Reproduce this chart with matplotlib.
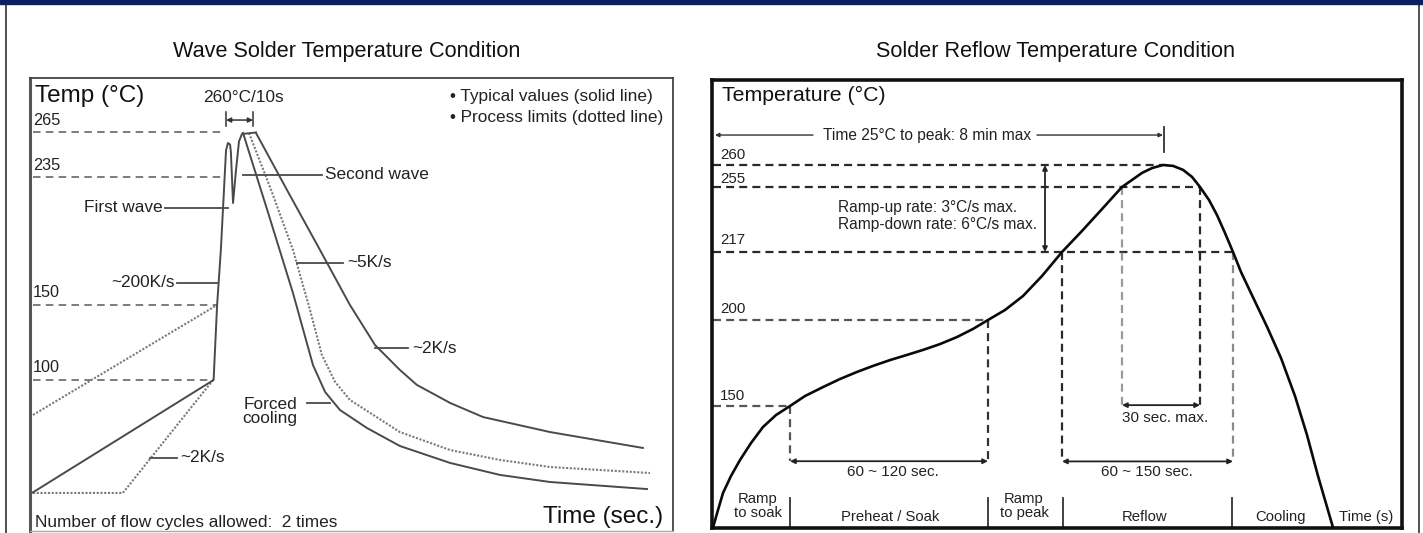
import numpy as np
import matplotlib
matplotlib.use("Agg")
import matplotlib.pyplot as plt
from matplotlib.patches import Rectangle
from matplotlib.lines import Line2D

plt.rcParams['font.family'] = ['Liberation Sans', 'DejaVu Sans']

# ---------------- data: wave solder (left) ----------------
wave_heat_t = [1, 68, 69.3, 70.7, 72.6, 73.3, 74.1, 74.4, 75.2, 76.3, 77.4, 78.5, 83.7]
wave_heat_T = [25, 100, 150, 187, 253, 258, 257, 252, 218, 240, 259, 264, 265]
forced_t = [78.9, 88.1, 97.4, 104.8, 109.3, 114.8, 124.8, 137.0, 155.6, 174.1, 192.6, 228.5]
forced_T = [264.7, 212, 158, 110, 92, 80, 68, 56, 44.7, 36.7, 32, 27.3]
limit_cool_t = [81.1, 89.3, 97.4, 103.7, 108.1, 113.0, 118.5, 137.0, 155.6, 174.1, 192.6, 229.6]
limit_cool_T = [264.7, 226.7, 186.7, 146.7, 116.7, 98.7, 86.7, 65.3, 53.3, 46.7, 42, 38]
slow_cool_t = [83.7, 95.6, 107.4, 118.5, 127.8, 137.0, 143.3, 155.6, 167.8, 192.6, 227.0]
slow_cool_T = [264.7, 225.3, 186.7, 150, 123.3, 106.7, 96.7, 84.7, 75.3, 65.3, 54.7]
limit_pre_low_t = [1.1, 34.4, 67.8]
limit_pre_low_T = [24.7, 24.7, 100]
limit_pre_high_t = [1.1, 69.3]
limit_pre_high_T = [76.7, 150]
wave_levels = [265, 235, 150, 100]
wave_level_end_t = [72.2, 71.1, 69.3, 67.8]

# ---------------- data: reflow (right) ----------------
reflow_t = [0, 5, 10, 18, 27, 38, 50, 63, 77, 92, 110, 127, 144, 160, 177, 194, 210, 227,
            244, 260, 275, 292, 310, 329, 349, 369, 389, 409, 419, 429, 439, 450, 460, 470,
            479, 487, 496, 504, 512, 520, 528, 537, 554, 568, 582, 594, 605, 620]
reflow_T = [25, 43.0, 60.5, 78.0, 94.4, 111.9, 128.4, 140.7, 150, 155.8, 161.0, 165.7,
            169.8, 173.3, 176.7, 179.7, 182.6, 186.0, 190.1, 194.8, 200, 202.5, 206, 211,
            217, 229.3, 242.1, 255, 256.6, 258.2, 259.3, 260, 259.8, 258.9, 257.3, 255,
            247.4, 238.6, 228.1, 217, 212, 207.25, 196.1, 177.9, 155.8, 120.2, 78.0, 25]
reflow_levels = [260, 255, 217, 200, 150]
reflow_level_end_t = [450, 487, 520, 275, 77]
phase_bounds_t = [77, 275, 350, 519]
phase_names = ["Ramp\nto soak", "Preheat / Soak", "Ramp\nto peak", "Reflow", "Cooling", "Time (s)"]
phase_center_t = [45, 177, 311, 432, 567, 653]

# temperature -> vertical position of the schematic (non-linear) axis
T_ANCH = np.array([0, 25, 150, 200, 217, 255, 260, 300])
P_ANCH = np.array([-24.3, 0, 121.5, 207.5, 275.5, 340.5, 362.5, 447.5])


def fwd(v):
    return np.interp(v, T_ANCH, P_ANCH)


def inv(p):
    return np.interp(p, P_ANCH, T_ANCH)


W, H = 1423, 533
fig = plt.figure(figsize=(W / 100, H / 100), dpi=100)
fig.patch.set_facecolor('white')

# frame / top band
fig.patches.append(Rectangle((0, 1 - 4 / H), 1, 4 / H, transform=fig.transFigure,
                             color='#0c1f5e', zorder=5))
for xp in (6, 1419):
    fig.lines.append(Line2D([xp / W, xp / W], [0, 1 - 4 / H], transform=fig.transFigure,
                            color='#333333', lw=1.2))

fig.text(347 / W, 1 - 51 / H, "Wave Solder Temperature Condition", ha='center', va='center',
         fontsize=15.6, color='#111111')
fig.text(1056 / W, 1 - 51 / H, "Solder Reflow Temperature Condition", ha='center', va='center',
         fontsize=15.6, color='#111111')

# ================= LEFT PANEL =================
axL = fig.add_axes([30 / W, 2 / H, 643 / W, 453 / H])
axL.set_xlim(0, 238.15)
axL.set_ylim(-0.667, 301.33)
axL.set_xticks([])
axL.set_yticks([])
axL.spines['left'].set_linewidth(2.2)
axL.spines['left'].set_color('#555555')
for s in ('top', 'right'):
    axL.spines[s].set_linewidth(1.3)
    axL.spines[s].set_color('#444444')
axL.spines['bottom'].set_linewidth(1.0)
axL.spines['bottom'].set_color('#aaaaaa')

cl = '#4a4a4a'
dotted = dict(color='#7a7a7a', lw=1.5, ls=(0, (1, 0.8)))
for lev, te in zip(wave_levels, wave_level_end_t):
    axL.plot([1.1, te], [lev, lev], color='#666666', lw=1.2, ls=(0, (4.5, 3.2)))
    axL.text(1.1, lev + 8, str(lev), ha='left', va='center', fontsize=11.7, color='#222222')

axL.plot(limit_pre_low_t, limit_pre_low_T, **dotted)
axL.plot(limit_pre_high_t, limit_pre_high_T, **dotted)
axL.plot(limit_cool_t, limit_cool_T, **dotted)
axL.plot(wave_heat_t, wave_heat_T, color=cl, lw=1.4, solid_joinstyle='round')
axL.plot(forced_t, forced_T, color=cl, lw=1.4)
axL.plot(slow_cool_t, slow_cool_T, color=cl, lw=1.4)

# 260°C/10s marker
axL.annotate('', xy=(72.6, 273.3), xytext=(82.6, 273.3),
             arrowprops=dict(arrowstyle='<|-|>', mutation_scale=7, lw=1.1, color='#333333',
                             shrinkA=0, shrinkB=0))
for tb in (72.6, 82.6):
    axL.plot([tb, tb], [269.3, 278.7], color='#333333', lw=1.1)
axL.text(64.1, 288, "260°C/10s", ha='left', va='center', fontsize=12.4, color='#222222')

fs = 12.4
tc = '#222222'
# leader lines + labels
leaders = [
    ((54.4, 69.6), 164.7, "~200K/s", 53.5, 'right'),
    ((50.0, 73.3), 214.7, "First wave", 49.0, 'right'),
    ((78.9, 108.1), 236.7, "Second wave", 109.3, 'left'),
    ((98.9, 115.9), 178.0, "~5K/s", 117.4, 'left'),
    ((127.8, 140.0), 121.3, "~2K/s", 141.5, 'left'),
    ((102.6, 111.1), 84.7, None, None, None),
    ((44.4, 54.4), 48.0, "~2K/s", 55.6, 'left'),
]
for (t0, t1), T, lab, tx, ha in leaders:
    axL.plot([t0, t1], [T, T], color=cl, lw=1.3)
    if lab:
        axL.text(tx, T, lab, ha=ha, va='center', fontsize=fs, color=tc)
axL.text(88.9, 79.0, "Forced\ncooling", ha='center', va='center', fontsize=fs, color=tc,
         linespacing=0.95)

axL.text(1.85, 289.3, "Temp (°C)", ha='left', va='center', fontsize=17.5, color='#111111')
axL.text(155.6, 288.7, "• Typical values (solid line)", ha='left', va='center', fontsize=fs, color=tc)
axL.text(155.6, 275.3, "• Process limits (dotted line)", ha='left', va='center', fontsize=fs, color=tc)
axL.text(234.4, 8.7, "Time (sec.)", ha='right', va='center', fontsize=17.5, color='#111111')
axL.text(1.85, 5.3, "Number of flow cycles allowed:  2 times", ha='left', va='center',
         fontsize=fs, color=tc)

# ================= RIGHT PANEL =================
axR = fig.add_axes([711.5 / W, 5.5 / H, 690 / W, 447.5 / H])
axR.set_yscale('function', functions=(fwd, inv))
axR.set_xlim(-1.5, 688.5)
axR.set_ylim(25, 300)
axR.set_xticks([])
axR.set_yticks([])
axR.minorticks_off()
for s in axR.spines.values():
    s.set_linewidth(2.6)
    s.set_color('#111111')

dk = '#2a2a2a'
gr = '#8a8a8a'
dash = (0, (3.6, 2.3))
level_colors = [dk, dk, dk, '#555555', '#555555']
for lev, te, c in zip(reflow_levels, reflow_level_end_t, level_colors):
    axR.plot([0, te], [lev, lev], color=c, lw=1.6, ls=dash)

label_T = {260: 264.7, 255: 256.8, 217: 224.0, 200: 202.75, 150: 155.9}
for lev in reflow_levels:
    axR.text(7, label_T[lev], str(lev), ha='left', va='center', fontsize=10.8, color='#222222')

# vertical dashed guides (t, T_top, T_bottom, color)
vguides = [(77, 150, 93.2, '#555555'), (275, 200, 93.2, '#333333'),
           (349, 217, 93.0, dk), (520, 217, 93.0, gr),
           (409, 255, 150.5, '#9a9a9a'), (487, 255, 150.5, dk)]
for t, T0, T1, c in vguides:
    axR.plot([t, t], [T0, T1], color=c, lw=1.6, ls=dash)

arr = dict(arrowstyle='<|-|>', mutation_scale=7, lw=1.3, color='#222222', shrinkA=0, shrinkB=0)
axR.annotate('', xy=(77, 93.2), xytext=(275, 93.2), arrowprops=arr)
axR.annotate('', xy=(349, 93.0), xytext=(520, 93.0), arrowprops=arr)
axR.annotate('', xy=(409, 150.5), xytext=(487, 150.5), arrowprops=arr)
axR.annotate('', xy=(332, 260), xytext=(332, 217), arrowprops=arr)

rfs = 11.0
axR.text(180, 82.1, "60 ~ 120 sec.", ha='center', va='center', fontsize=rfs, color='#222222')
axR.text(434, 82.1, "60 ~ 150 sec.", ha='center', va='center', fontsize=rfs, color='#222222')
axR.text(452, 137.7, "30 sec. max.", ha='center', va='center', fontsize=rfs, color='#222222')

axR.text(125, 243.3, "Ramp-up rate: 3°C/s max.", ha='left', va='center', fontsize=11.2, color='#222222')
axR.text(125, 232.8, "Ramp-down rate: 6°C/s max.", ha='left', va='center', fontsize=11.2, color='#222222')

# Time 25°C to peak
thin = dict(arrowstyle='-|>', mutation_scale=6, lw=1.0, color='#333333', shrinkA=0, shrinkB=0)
axR.annotate('', xy=(2, 274.1), xytext=(100, 274.1), arrowprops=thin)
axR.annotate('', xy=(450, 274.1), xytext=(324, 274.1), arrowprops=thin)
axR.plot([451, 451], [266.1, 277.9], color='#333333', lw=1.3)
axR.text(214.5, 274.1, "Time 25°C to peak: 8 min max", ha='center', va='center', fontsize=11.2,
         color='#222222')

axR.text(9, 292.5, "Temperature (°C)", ha='left', va='center', fontsize=15.3, color='#111111')

# phases
for t in phase_bounds_t:
    axR.plot([t, t], [25, 55.3], color='#333333', lw=1.3)
for name, t in zip(phase_names, phase_center_t):
    two = '\n' in name
    axR.text(t, 47.1 if two else 35.8, name, ha='center', va='center', fontsize=10.7,
             color='#222222', linespacing=0.95)

axR.plot(reflow_t, reflow_T, color='#0a0a0a', lw=1.9, solid_joinstyle='round',
         solid_capstyle='round', zorder=4)

fig.savefig('out.png', dpi=100, facecolor='white')
